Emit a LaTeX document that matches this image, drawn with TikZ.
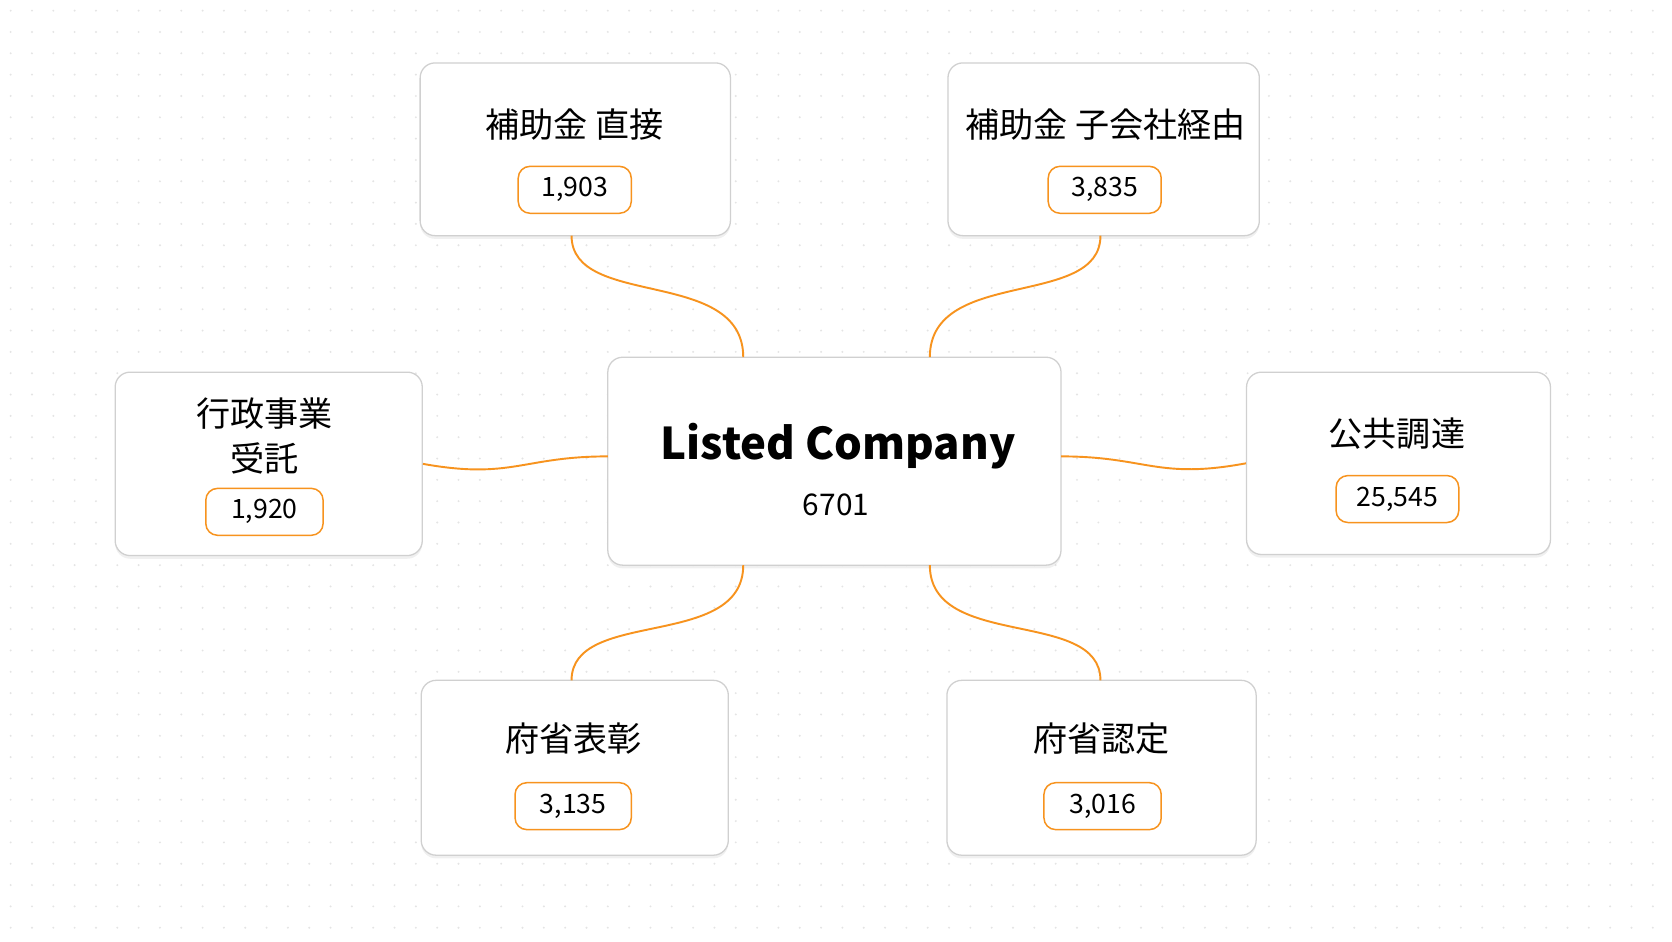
\documentclass[tikz,border=0pt]{standalone}
\usepackage{fontspec}
\setmainfont{Noto Sans CJK JP}
\usetikzlibrary{shadows}
\definecolor{org}{HTML}{F7931E}
\definecolor{bd}{HTML}{D0D0D0}
\definecolor{dotc}{HTML}{E4E4E4}
\begin{document}
\begin{tikzpicture}[x=1pt,y=-1pt,
  box/.style={draw=bd,line width=1.2pt,rounded corners=14pt,fill=white,
    drop shadow={shadow xshift=0pt,shadow yshift=-3pt,fill=black,opacity=0.06}},
  pill/.style={draw=org,line width=1.4pt,rounded corners=11pt,fill=white,minimum height=44pt,
    inner sep=0pt,font=\fontsize{25}{27}\selectfont},
  lab/.style={font=\fontsize{32}{40}\selectfont,align=center},
  con/.style={draw=org,line width=1.8pt}]
\useasboundingbox (0,0) rectangle (1568,882.5);
\fill[white] (0,0) rectangle (1568,882.5);
\foreach \i in {0,...,77}{\foreach \j in {0,...,43}{
  \fill[dotc] (10+20*\i,10+20*\j) circle (1.0pt);}}
% boxes
\node[box,minimum width=425pt,minimum height=195pt] (c) at (782.5,432.5) {};
\node[box,minimum width=291pt,minimum height=162pt] (tl) at (539.5,140) {};
\node[box,minimum width=292pt,minimum height=162pt] (tr) at (1035,140) {};
\node[box,minimum width=288pt,minimum height=172pt] (l) at (252,435) {};
\node[box,minimum width=285pt,minimum height=171pt] (r) at (1311.5,434.5) {};
\node[box,minimum width=288pt,minimum height=164pt] (bl) at (539,720) {};
\node[box,minimum width=290pt,minimum height=164pt] (br) at (1033,720) {};
% texts
\node[font=\fontsize{41}{48}\selectfont\bfseries] (ct) at (786,418) {Listed Company};
\node[font=\fontsize{28}{30}\selectfont] (cn) at (784,473) {6701};
\node[lab] (tlt) at (539,117) {補助金 直接};
\node[pill,minimum width=106pt] (tlp) at (539,178) {1,903};
\node[lab] (trt) at (1037,117) {補助金 子会社経由};
\node[pill,minimum width=106pt] (trp) at (1036,178) {3,835};
\node[lab,font=\fontsize{32}{42}\selectfont] (lt) at (248,409) {行政事業\\受託};
\node[pill,minimum width=110pt] (lp) at (248,480) {1,920};
\node[lab] (rt) at (1310,407) {公共調達};
\node[pill,minimum width=115pt] (rp) at (1310.5,468) {25,545};
\node[lab] (blt) at (538,693) {府省表彰};
\node[pill,minimum width=109pt] (blp) at (537.5,756) {3,135};
\node[lab] (brt) at (1033,693) {府省認定};
\node[pill,minimum width=110pt] (brp) at (1034,756) {3,016};
% connectors
\coordinate (c1) at (697,335); \coordinate (c2) at (872,335);
\coordinate (c3) at (697,530); \coordinate (c4) at (872,530);
\coordinate (c5) at (570,428); \coordinate (c6) at (995,428);
\draw[con] (536,221) .. controls (536,290) and (697,250) .. (c1);
\draw[con] (1032,221) .. controls (1032,290) and (872,250) .. (c2);
\draw[con] (536,638) .. controls (536,570) and (697,610) .. (c3);
\draw[con] (1032,638) .. controls (1032,570) and (872,610) .. (c4);
\draw[con] (l.east) .. controls (480,450) and (490,428) .. (c5);
\draw[con] (r.west) .. controls (1085,450) and (1075,428) .. (c6);
\end{tikzpicture}
\end{document}
